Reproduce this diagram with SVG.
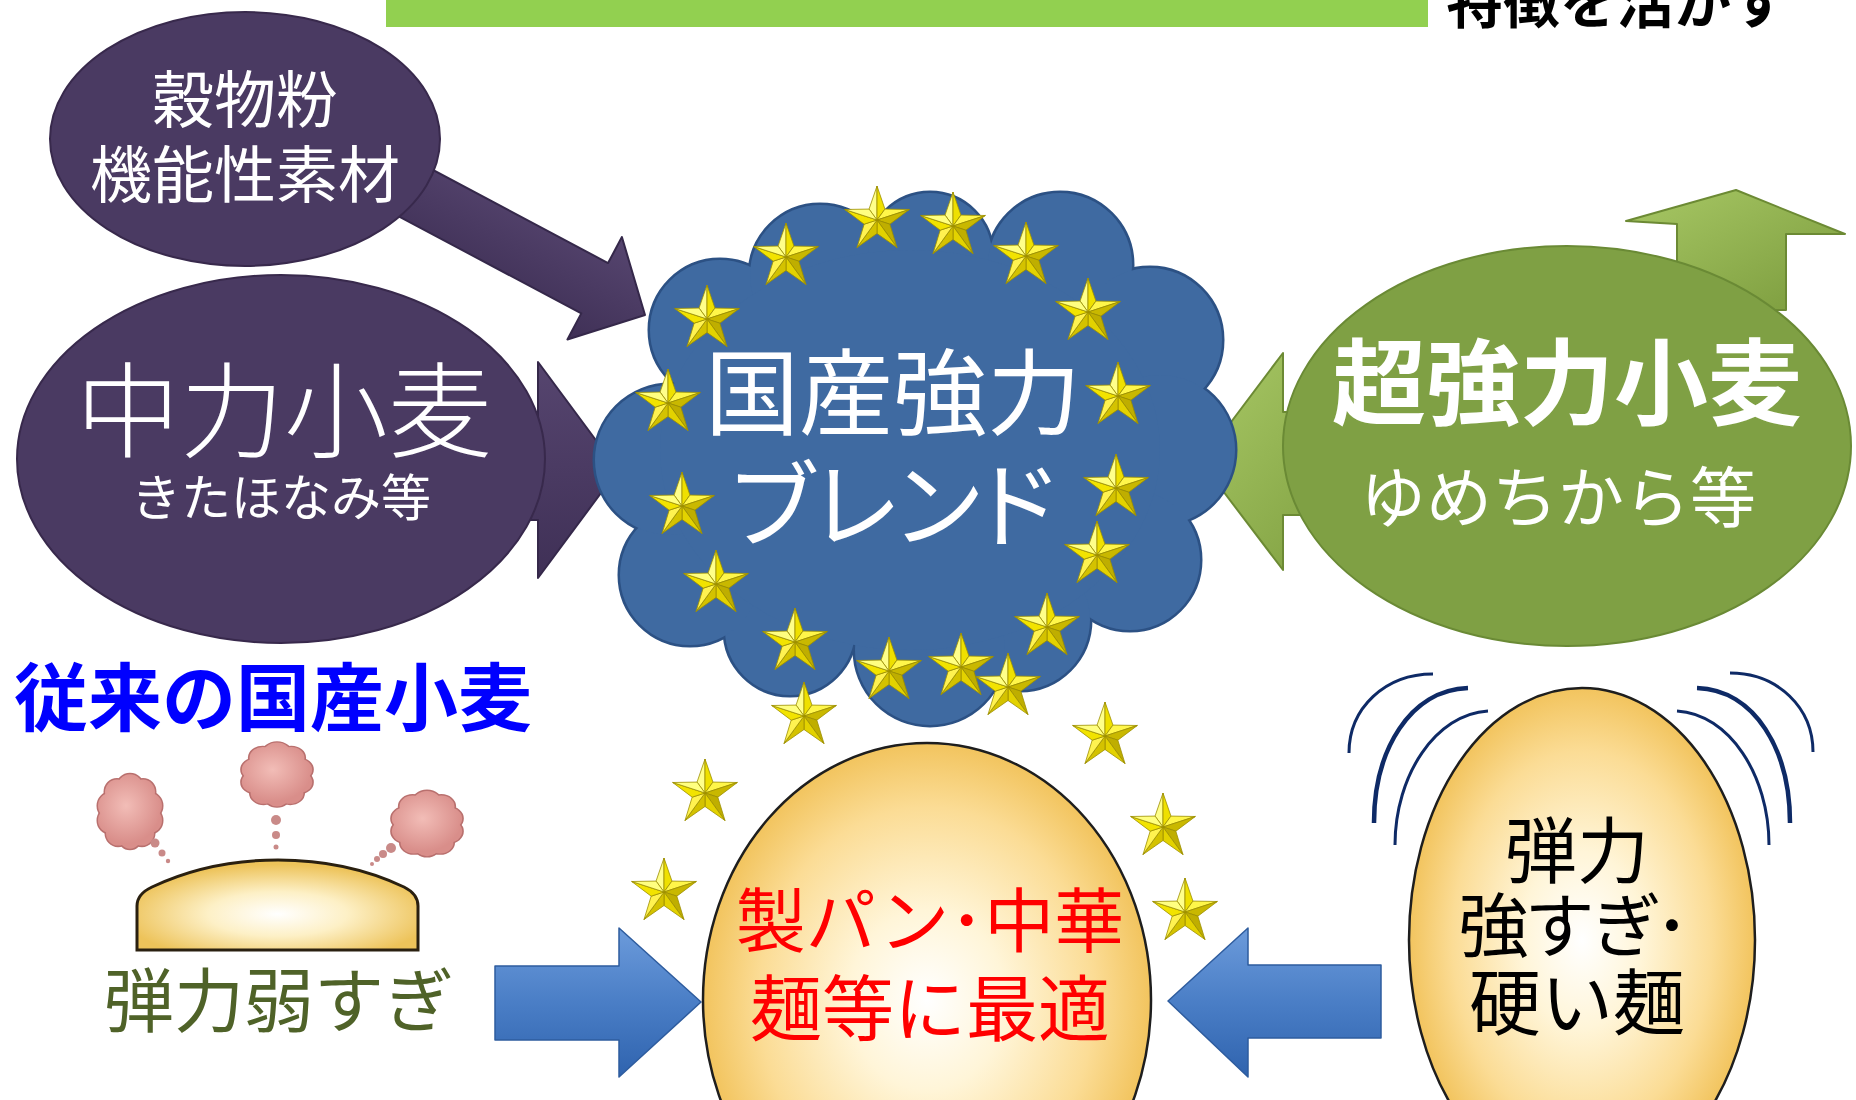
<svg xmlns="http://www.w3.org/2000/svg" xmlns:xlink="http://www.w3.org/1999/xlink" width="1856" height="1100" viewBox="0 0 1856 1100">
  <style>
    .jp { font-family: 'Noto Sans CJK JP', 'Noto Sans CJK SC', sans-serif; }
    .wt { fill: #ffffff; }
    .b { font-weight: 700; }
    .mid { text-anchor: middle; }
    .palt { font-feature-settings: 'palt'; }
    .purple { fill: #4A3A62; stroke: #38294C; stroke-width: 2; }
    .vib { fill: none; stroke: #0E2A66; stroke-linecap: butt; }
  </style>
  <defs>
    <radialGradient id="cream" cx="0.5" cy="0.5" r="0.5">
      <stop offset="0" stop-color="#FFFFFF"/>
      <stop offset="0.35" stop-color="#FFF5D8"/>
      <stop offset="0.75" stop-color="#FBDC95"/>
      <stop offset="1" stop-color="#F2C45E"/>
    </radialGradient>
    <radialGradient id="bun" cx="0.5" cy="0.6" r="0.55">
      <stop offset="0" stop-color="#FFFFFF"/>
      <stop offset="0.45" stop-color="#FDF0C6"/>
      <stop offset="1" stop-color="#EDC35A"/>
    </radialGradient>
    <radialGradient id="puffFill" gradientUnits="userSpaceOnUse" cx="-4" cy="-6" r="36">
      <stop offset="0" stop-color="#F2BDB7"/>
      <stop offset="1" stop-color="#D98E8A"/>
    </radialGradient>
    <linearGradient id="blueArrow" x1="0" y1="0" x2="0" y2="1">
      <stop offset="0" stop-color="#6C9BDB"/>
      <stop offset="0.5" stop-color="#4A7EC6"/>
      <stop offset="1" stop-color="#2F63AE"/>
    </linearGradient>
    <linearGradient id="greenArrow" x1="0" y1="0" x2="1" y2="1">
      <stop offset="0" stop-color="#A8C865"/>
      <stop offset="1" stop-color="#7A9A3C"/>
    </linearGradient>
    <linearGradient id="purpleArrow" x1="0" y1="0" x2="0" y2="1">
      <stop offset="0" stop-color="#56456F"/>
      <stop offset="1" stop-color="#3F3056"/>
    </linearGradient>

    <!-- bevelled five-point star, outer radius 34 -->
    <g id="star" stroke="#9C8E00" stroke-width="0.8" stroke-linejoin="round">
      <polygon points="0,0 -7.94,-10.92 0,-34" fill="#FFFF8A"/>
      <polygon points="0,0 0,-34 7.94,-10.92" fill="#EFE000"/>
      <polygon points="0,0 7.94,-10.92 32.34,-10.51" fill="#FFF64A"/>
      <polygon points="0,0 32.34,-10.51 12.84,4.17" fill="#C9B800"/>
      <polygon points="0,0 12.84,4.17 19.98,27.51" fill="#BFAE00"/>
      <polygon points="0,0 19.98,27.51 0,13.5" fill="#E3D200"/>
      <polygon points="0,0 0,13.5 -19.98,27.51" fill="#D4C200"/>
      <polygon points="0,0 -19.98,27.51 -12.84,4.17" fill="#FFF250"/>
      <polygon points="0,0 -12.84,4.17 -32.34,-10.51" fill="#F2E300"/>
      <polygon points="0,0 -32.34,-10.51 -7.94,-10.92" fill="#FFFF80"/>
    </g>

    <!-- small scalloped thought puff -->
    <g id="puffShape">
      <circle cx="0" cy="-23" r="13"/>
      <circle cx="-13" cy="-19" r="12"/>
      <circle cx="13" cy="-19" r="12"/>
      <circle cx="-20" cy="-6" r="12"/>
      <circle cx="20" cy="-6" r="12"/>
      <circle cx="-20" cy="8" r="12"/>
      <circle cx="20" cy="8" r="12"/>
      <circle cx="-12" cy="20" r="12"/>
      <circle cx="12" cy="20" r="12"/>
      <circle cx="0" cy="24" r="11"/>
      <circle cx="0" cy="0" r="24"/>
    </g>
    <g id="puff">
      <use xlink:href="#puffShape" fill="#B9706E" stroke="#B9706E" stroke-width="3"/>
      <use xlink:href="#puffShape" fill="url(#puffFill)"/>
    </g>

    <!-- cloud body built from overlapping bumps -->
    <g id="cloudShape">
      <circle cx="720" cy="330" r="70"/>
      <circle cx="820" cy="275" r="70"/>
      <circle cx="930" cy="255" r="62"/>
      <circle cx="1060" cy="265" r="72"/>
      <circle cx="1150" cy="340" r="72"/>
      <circle cx="1160" cy="450" r="75"/>
      <circle cx="1130" cy="560" r="70"/>
      <circle cx="1020" cy="620" r="70"/>
      <circle cx="930" cy="650" r="75"/>
      <circle cx="790" cy="630" r="65"/>
      <circle cx="690" cy="575" r="70"/>
      <circle cx="670" cy="460" r="75"/>
      <ellipse cx="910" cy="450" rx="250" ry="200"/>
    </g>
  </defs>

  <rect width="1856" height="1100" fill="#ffffff"/>

  <!-- header band and caption -->
  <rect x="386" y="0" width="1042" height="27" fill="#92D050"/>
  <text class="jp b" x="1446" y="23" font-size="57" fill="#000">特徴を活かす</text>

  <!-- connectors -->
  <g id="connectors">
    <!-- grain flour to blend -->
    <polygon transform="translate(645,315) rotate(28)" points="0,0 -57,-58 -57,-28.5 -300,-28.5 -300,28.5 -57,28.5 -57,58" fill="url(#purpleArrow)" stroke="#35284A" stroke-width="2" stroke-linejoin="round"/>
    <!-- medium wheat to blend -->
    <polygon points="440,420 538,420 538,362 618,470 538,578 538,520 440,520" fill="url(#purpleArrow)" stroke="#35284A" stroke-width="2" stroke-linejoin="round"/>
    <!-- extra strong wheat to blend -->
    <polygon points="1390,412 1283,412 1283,353 1201,462 1283,570 1283,515 1390,515" fill="url(#greenArrow)" stroke="#6C8A34" stroke-width="2" stroke-linejoin="round"/>
    <!-- upward arrow above extra strong wheat -->
    <polygon points="1736,190 1845,234 1786,234 1786,310 1677,310 1677,224 1626,221" fill="url(#greenArrow)" stroke="#6C8A34" stroke-width="2" stroke-linejoin="round"/>
    <!-- weak elasticity to optimum -->
    <polygon points="495,966 619,966 619,928 701,1002 619,1077 619,1040 495,1040" fill="url(#blueArrow)" stroke="#2E5C9E" stroke-width="1.5" stroke-linejoin="round"/>
    <!-- strong elasticity to optimum -->
    <polygon points="1381,965 1248,965 1248,928 1168,1001 1248,1077 1248,1038 1381,1038" fill="url(#blueArrow)" stroke="#2E5C9E" stroke-width="1.5" stroke-linejoin="round"/>
  </g>

  <g id="node-grain-flour">
    <ellipse class="purple" cx="245" cy="139" rx="195" ry="127"/>
    <text class="jp wt mid" x="245" y="123" font-size="62">穀物粉</text>
    <text class="jp wt mid" x="245" y="198" font-size="62">機能性素材</text>
  </g>

  <g id="node-medium-wheat">
    <ellipse class="purple" cx="281" cy="459" rx="264" ry="184"/>
    <text class="jp wt mid" x="284" y="450" font-size="104" font-weight="300">中力小麦</text>
    <text class="jp wt mid" x="281" y="516" font-size="50">きたほなみ等</text>
  </g>

  <g id="node-strong-wheat">
    <ellipse cx="1567" cy="446" rx="284" ry="200" fill="#7FA044" stroke="#6A8A35" stroke-width="2"/>
    <text class="jp wt b mid" x="1567" y="418" font-size="94">超強力小麦</text>
    <text class="jp wt mid" x="1558" y="522" font-size="66">ゆめちから等</text>
  </g>

  <g id="node-blend">
    <use xlink:href="#cloudShape" fill="#2C5184" stroke="#2C5184" stroke-width="5"/>
    <use xlink:href="#cloudShape" fill="#3F6AA1"/>
    <text class="jp wt mid" x="893" y="428" font-size="94">国産強力</text>
    <text class="jp wt mid palt" x="893" y="540" font-size="94">ブレンド</text>
  </g>

  <g id="node-conventional">
    <text class="jp b" x="14" y="725" font-size="74" fill="#0000FF">従来の国産小麦</text>
    <use xlink:href="#puff" transform="translate(130,812) scale(1,1.05)"/>
    <use xlink:href="#puff" transform="translate(277,775) scale(1.1,0.9)"/>
    <use xlink:href="#puff" transform="translate(427,824) scale(1.1,0.92)"/>
    <g fill="#C98A88">
      <circle cx="155" cy="843" r="4.5"/>
      <circle cx="162" cy="853" r="3.5"/>
      <circle cx="168" cy="861" r="2.2"/>
      <circle cx="276" cy="820" r="5"/>
      <circle cx="276" cy="835" r="4"/>
      <circle cx="276" cy="847" r="2.5"/>
      <circle cx="391" cy="848" r="5"/>
      <circle cx="383" cy="854" r="4"/>
      <circle cx="377" cy="859" r="3"/>
      <circle cx="372" cy="864" r="2"/>
    </g>
    <path d="M137,950 L137,906 Q137,894 152,887 C192,868 236,860 278,860 C320,860 364,868 404,887 Q418,894 418,906 L418,950 Z" fill="url(#bun)" stroke="#2A2010" stroke-width="3"/>
    <text class="jp" x="104" y="1027" font-size="70" fill="#4F6228">弾力弱すぎ</text>
  </g>

  <g id="node-optimum">
    <ellipse cx="927" cy="1000" rx="224" ry="257" fill="url(#cream)" stroke="#1E1E1E" stroke-width="2.5"/>
    <text class="jp mid" x="930" y="947" font-size="70" fill="#FF0000">製パン･中華</text>
    <text class="jp mid" x="930" y="1035" font-size="72" fill="#FF0000">麺等に最適</text>
  </g>

  <g id="node-too-strong">
    <ellipse cx="1582" cy="940" rx="173" ry="252" fill="url(#cream)" stroke="#1E1E1E" stroke-width="2.5"/>
    <path class="vib" stroke-width="3" d="M1433,674 C1385,674 1349,708 1349,753"/>
    <path class="vib" stroke-width="4.5" d="M1468,688 C1410,690 1374,750 1374,823"/>
    <path class="vib" stroke-width="3" d="M1488,711 C1436,714 1395,775 1395,845"/>
    <path class="vib" stroke-width="3" d="M1730,673 C1778,673 1813,708 1813,752"/>
    <path class="vib" stroke-width="4.5" d="M1697,688 C1755,690 1790,750 1790,823"/>
    <path class="vib" stroke-width="3" d="M1677,711 C1729,714 1769,775 1769,845"/>
    <text class="jp mid" x="1577" y="877" font-size="72" fill="#000">弾力</text>
    <text class="jp mid palt" x="1574" y="952" font-size="70" fill="#000">強すぎ･</text>
    <text class="jp mid" x="1577" y="1029" font-size="72" fill="#000">硬い麺</text>
  </g>

  <!-- ring of stars over the blend, and stars falling toward the optimum -->
  <g id="stars">
    <use xlink:href="#star" x="877" y="220"/>
    <use xlink:href="#star" x="953" y="226"/>
    <use xlink:href="#star" x="786" y="257"/>
    <use xlink:href="#star" x="1026" y="256"/>
    <use xlink:href="#star" x="707" y="319"/>
    <use xlink:href="#star" x="1088" y="312"/>
    <use xlink:href="#star" x="668" y="403"/>
    <use xlink:href="#star" x="1118" y="396"/>
    <use xlink:href="#star" x="682" y="506"/>
    <use xlink:href="#star" x="1116" y="488"/>
    <use xlink:href="#star" x="716" y="584"/>
    <use xlink:href="#star" x="1097" y="555"/>
    <use xlink:href="#star" x="795" y="642"/>
    <use xlink:href="#star" x="1047" y="627"/>
    <use xlink:href="#star" x="889" y="671"/>
    <use xlink:href="#star" x="961" y="667"/>
    <use xlink:href="#star" x="1008" y="687"/>
    <use xlink:href="#star" x="804" y="716"/>
    <use xlink:href="#star" x="1105" y="736"/>
    <use xlink:href="#star" x="705" y="793"/>
    <use xlink:href="#star" x="1163" y="827"/>
    <use xlink:href="#star" x="664" y="892"/>
    <use xlink:href="#star" x="1185" y="912"/>
  </g>
</svg>
